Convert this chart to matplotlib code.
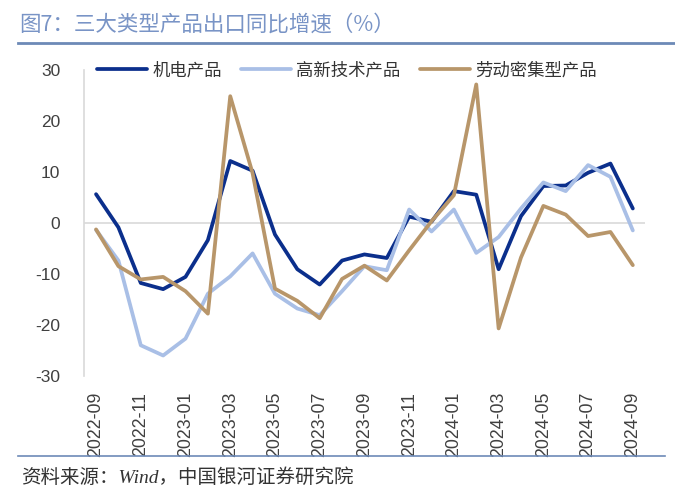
## --- 三大类型产品出口同比增速 --- ##
import matplotlib.pyplot as plt
import numpy as np

plt.rcParams['font.family'] = ['Noto Sans CJK SC', 'DejaVu Sans']
NUM_FONT = ['Liberation Sans', 'DejaVu Sans']

# -- DATA -- #
months = ['2022-09', '2022-10', '2022-11', '2022-12', '2023-01', '2023-02', '2023-03',
          '2023-04', '2023-05', '2023-06', '2023-07', '2023-08', '2023-09', '2023-10',
          '2023-11', '2023-12', '2024-01', '2024-02', '2024-03', '2024-04', '2024-05',
          '2024-06', '2024-07', '2024-08', '2024-09']
jidian = [5.7, -0.8, -11.7, -12.9, -10.5, -3.3, 12.2, 10.3, -2.2, -9.0, -12.0, -7.3,
          -6.1, -6.8, 1.3, 0.3, 6.3, 5.6, -9.0, 1.4, 7.3, 7.4, 9.9, 11.7, 2.9]
gaoxin = [-1.3, -7.3, -23.9, -25.9, -22.6, -13.8, -10.4, -5.9, -13.8, -16.7, -18.0, -13.3,
          -8.4, -9.2, 2.7, -1.6, 2.7, -5.8, -2.7, 2.9, 8.0, 6.3, 11.4, 9.1, -1.4]
laodong = [-1.2, -8.4, -11.0, -10.5, -13.3, -17.7, 24.9, 9.8, -12.8, -15.2, -18.6, -10.9,
           -8.3, -11.2, -5.3, 0.4, 5.5, 27.2, -20.6, -6.7, 3.4, 1.7, -2.5, -1.7, -8.2]
labels = ['机电产品', '高新技术产品', '劳动密集型产品']
colors = ['#0b2f8c', '#a9bfe6', '#b8966a']

# -- FIGURE -- #
fig = plt.figure(figsize=(6.75, 4.94), dpi=100)
ax = fig.add_axes([0.1244, 0.238, 0.831, 0.62])
x = np.arange(len(months))
for vals, lab, col in zip([jidian, gaoxin, laodong], labels, colors):
    ax.plot(x, vals, color=col, linewidth=2.7, label=lab, solid_capstyle='round')

ax.axhline(0, color='#d9d9d9', linewidth=1.2, zorder=0)
ax.set_ylim(-30, 30)
ax.set_yticks(np.arange(-30, 31, 10))
ax.set_yticklabels([str(v) for v in range(-30, 31, 10)], family=NUM_FONT,
                   fontsize=12.5, color='#404040')
ax.set_xlim(-0.54, len(months) - 0.46)
ax.set_xticks(x[::2])
ax.set_xticklabels(months[::2], rotation=90, fontsize=12.8, color='#404040',
                   family=NUM_FONT)
ax.tick_params(axis='x', length=0, pad=11)
ax.tick_params(axis='y', length=0, pad=17)
for side in ['top', 'right', 'bottom']:
    ax.spines[side].set_visible(False)
ax.spines['left'].set_color('#d9d9d9')
ax.spines['left'].set_linewidth(1.2)

ax.legend(loc='center left', bbox_to_anchor=(0.0225, 1.0), ncol=3, frameon=False,
          fontsize=12.5, handlelength=2.9, columnspacing=1.1, handletextpad=0.3,
          labelcolor='#333333', borderaxespad=0, borderpad=0)

# -- TITLE AND SOURCE -- #
fig.text(0.028, 0.951, '图7：三大类型产品出口同比增速（%）', fontsize=15.5,
         color='#7994c6', va='center')
fig.add_artist(plt.Line2D([0.027, 1.0], [0.913, 0.913], color='#6d8ab7', linewidth=2))
fig.add_artist(plt.Line2D([0.027, 0.985], [0.077, 0.077], color='#6d8ab7', linewidth=1.2))
fig.text(0.031, 0.034, '资料来源：Wind，中国银河证券研究院', fontsize=14,
         color='#333333', va='center', style='italic',
         family=['Liberation Serif', 'Noto Sans CJK SC'])

plt.savefig('out.png', dpi=100)
